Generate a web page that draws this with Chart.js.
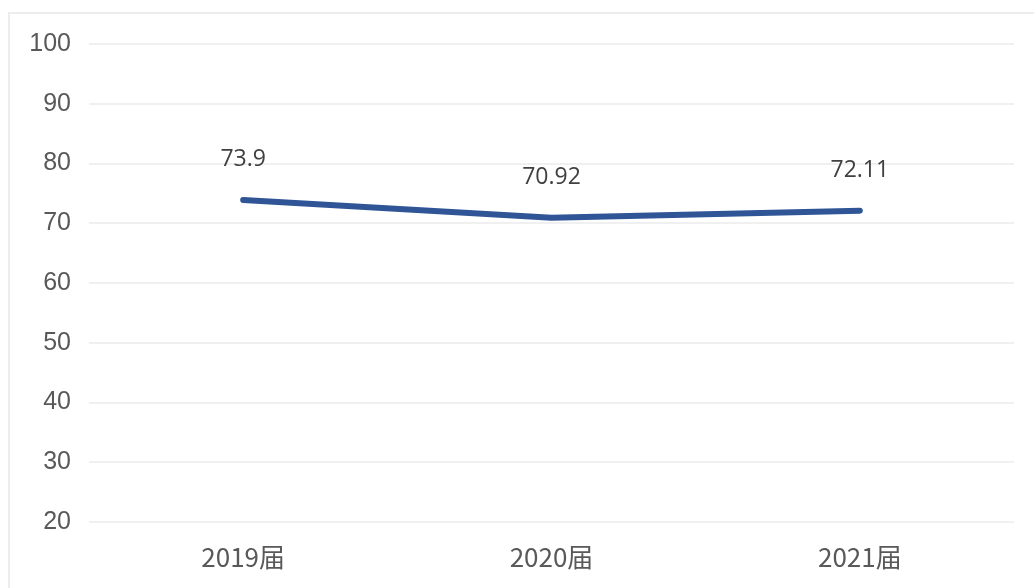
<!DOCTYPE html>
<html>
<head>
<meta charset="utf-8">
<script src="https://cdn.jsdelivr.net/npm/chart.js@4.4.1/dist/chart.umd.min.js"></script>
<style>
  html, body { margin: 0; padding: 0; background: #fff; overflow: hidden; }
  #frame {
    position: absolute; left: 8px; top: 12px;
    width: 1100px; height: 700px;
    border-left: 2px solid #EDEDED; border-top: 2px solid #EDEDED;
  }
  #wrap { position: absolute; left: 0; top: 0; width: 1034px; height: 588px; }
</style>
</head>
<body>
<div id="frame"></div>
<div id="wrap"><canvas id="lineChart"></canvas></div>
<script>
// ── Chart data ───────────────────────────────────────────────
const categories = ['2019届', '2020届', '2021届'];
const values     = [73.9, 70.92, 72.11];
const yMin = 20, yMax = 100, yStep = 10;

// ── Value labels drawn above each point ──────────────────────
const valueLabels = {
    id: 'valueLabels',
    afterDatasetsDraw(chart) {
        const ctx  = chart.ctx;
        const meta = chart.getDatasetMeta(0);
        ctx.save();
        ctx.font         = '23px "Open Sans", "Noto Sans", sans-serif';
        ctx.fillStyle    = '#404040';
        ctx.textAlign    = 'center';
        ctx.textBaseline = 'middle';
        meta.data.forEach((pt, i) => {
            ctx.fillText(String(values[i]), pt.x, pt.y - 40);
        });
        ctx.restore();
    }
};

new Chart(document.getElementById('lineChart'), {
    type: 'line',
    data: {
        labels: categories,
        datasets: [{
            data:        values,
            borderColor: '#2F5597',
            borderWidth: 6,
            pointRadius: 0,
            tension:     0,
            borderCapStyle: 'round'
        }]
    },
    options: {
        responsive: true,
        maintainAspectRatio: false,
        animation: false,
        layout: { padding: { top: 44, right: 20, bottom: 0, left: 0 } },
        plugins: { legend: { display: false }, tooltip: { enabled: false } },
        scales: {
            x: {
                offset: true,
                grid:   { display: false },
                border: { display: false },
                ticks:  {
                    color: '#595959',
                    padding: 12,
                    font: { family: '"Noto Sans CJK SC", sans-serif', size: 26 }
                },
                afterFit: (s) => { s.height = 66; }
            },
            y: {
                min: yMin, max: yMax,
                grid:   { color: '#F0F0F0', lineWidth: 2, drawTicks: false },
                border: { display: false },
                ticks:  {
                    stepSize: yStep,
                    color: '#595959',
                    padding: 18,
                    font: { family: '"Liberation Sans", Arial, sans-serif', size: 25 }
                },
                afterFit: (s) => { s.width = 89; }
            }
        }
    },
    plugins: [valueLabels]
});
</script>
</body>
</html>
